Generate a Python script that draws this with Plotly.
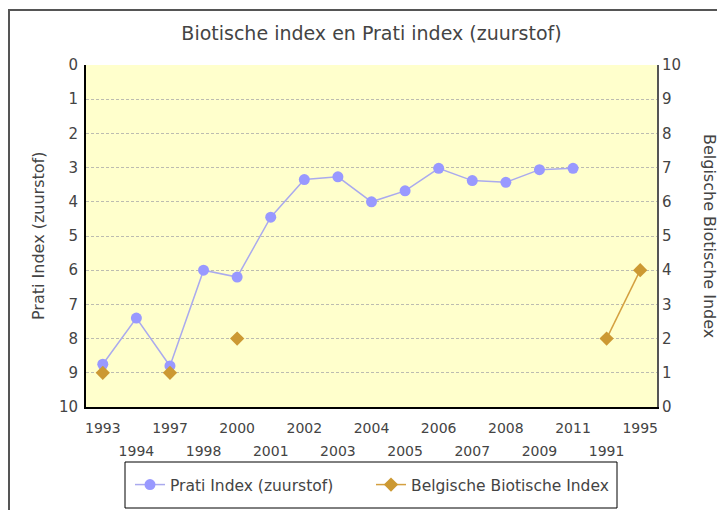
import plotly.graph_objects as go

categories = ["1993", "1994", "1997", "1998", "2000", "2001", "2002", "2003", "2004",
              "2005", "2006", "2007", "2008", "2009", "2011", "1991", "1995"]
prati = [8.75, 7.4, 8.8, 6.0, 6.2, 4.45, 3.35, 3.27, 4.0, 3.68, 3.02, 3.38, 3.43, 3.06, 3.02,
         None, None]
bbi = [1, None, 1, None, 2, None, None, None, None, None, None, None, None, None, None, 2, 4]
y_ticks = list(range(0, 11))

idx = list(range(len(categories)))
font = "DejaVu Sans"
txt = "#444444"

fig = go.Figure()
fig.add_trace(go.Scatter(
    x=idx, y=prati, name="Prati Index (zuurstof)", mode="lines+markers",
    line=dict(color="#aaaaee", width=1.5),
    marker=dict(color="#9999ff", size=11, symbol="circle"),
    yaxis="y", connectgaps=False))
fig.add_trace(go.Scatter(
    x=idx, y=bbi, name="Belgische Biotische Index", mode="lines+markers",
    line=dict(color="#d4a040", width=1.5),
    marker=dict(color="#cc9933", size=11, symbol="diamond"),
    yaxis="y2", connectgaps=False))
# carrier trace so the second (staggered) category row is drawn
fig.add_trace(go.Scatter(x=[0], y=[None], xaxis="x2", yaxis="y", showlegend=False,
                         hoverinfo="skip", mode="markers"))

even = [i for i in idx if i % 2 == 0]
odd = [i for i in idx if i % 2 == 1]

PW, PH, PL, PB = 571.0, 342.0, 86.0, 407.0  # plot box as seen in the page


def px(x):
    return (x - PL) / PW


def py(y):
    return (PB - y) / PH


fig.update_layout(
    width=725, height=510,
    margin=dict(l=78, r=76, t=57, b=111, autoexpand=False),
    paper_bgcolor="white", plot_bgcolor="#ffffcc",
    font=dict(family=font, size=14, color=txt),
    title=dict(text="Biotische index en Prati index (zuurstof)", x=0.5, xref="paper",
               y=1 - 25 / 510, yref="container", yanchor="middle", xanchor="center",
               font=dict(size=19, color=txt)),
    xaxis=dict(range=[-0.5, len(categories) - 0.5], tickvals=even,
               ticktext=[categories[i] for i in even], showgrid=False, zeroline=False,
               showline=True, linecolor="black", linewidth=2, ticks="", automargin=False,
               ticklabelstandoff=7, tickfont=dict(size=14, color=txt)),
    xaxis2=dict(range=[-0.5, len(categories) - 0.5], tickvals=odd,
                ticktext=[categories[i] for i in odd], overlaying="x", anchor="y",
                side="bottom", showgrid=False, zeroline=False, showline=False, ticks="",
                ticklabelstandoff=34, automargin=False, tickfont=dict(size=14, color=txt)),
    yaxis=dict(range=[10, 0], tickvals=y_ticks, showgrid=True, gridcolor="#bcbcb0",
               griddash="3px,2px", gridwidth=1, zeroline=False, showline=True,
               linecolor="black", linewidth=2, ticks="", automargin=False,
               ticklabelstandoff=3, tickfont=dict(size=15, color=txt)),
    yaxis2=dict(range=[0, 10], tickvals=y_ticks, overlaying="y", side="right",
                showgrid=False, zeroline=False, showline=True, linecolor="#555555",
                linewidth=2, ticks="", automargin=False, tickfont=dict(size=15, color=txt)),
    legend=dict(orientation="h", x=px(371), xanchor="center", y=py(485),
                yanchor="middle", borderwidth=0, bgcolor="rgba(0,0,0,0)",
                font=dict(size=15.5, color=txt), entrywidth=196, itemwidth=30),
    showlegend=True,
)

fig.add_annotation(text="Prati Index (zuurstof)", xref="paper", yref="paper",
                   x=px(38), y=0.5, textangle=-90, showarrow=False,
                   font=dict(size=16, color=txt), xanchor="center", yanchor="middle")
fig.add_annotation(text="Belgische Biotische Index", xref="paper", yref="paper",
                   x=px(710), y=0.5, textangle=90, showarrow=False,
                   font=dict(size=16, color=txt), xanchor="center", yanchor="middle")

# outer chart frame (left / top edges visible)
fig.add_shape(type="rect", xref="paper", yref="paper",
              x0=px(9), x1=2.0, y0=-2.0, y1=py(10),
              line=dict(color="#555555", width=2), layer="below")
# legend box
fig.add_shape(type="rect", xref="paper", yref="paper",
              x0=px(125), x1=px(617), y0=py(508), y1=py(462),
              line=dict(color="black", width=1), fillcolor="white", layer="below")

fig.write_html("out.html")
